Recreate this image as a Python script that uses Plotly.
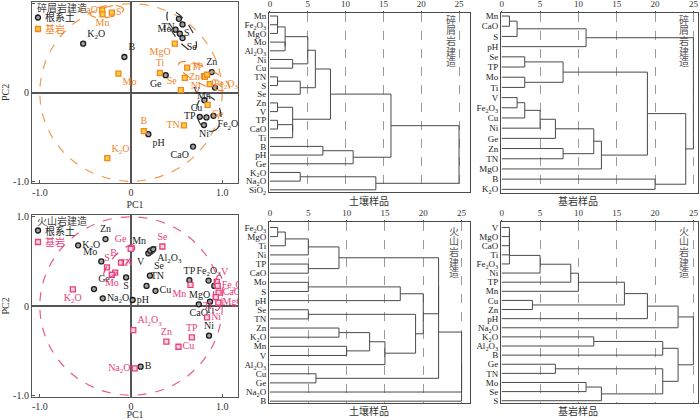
import numpy as np
import plotly.graph_objects as go

# ---------------- data ----------------
# PCA loadings — 碎屑岩建造, 根系土
cl_soil_names = ["K2O", "B", "TN", "", "Mo", "S", "Se", "Ge", "Zn", "Mn", "V", "TP", "Cu", "Fe2O3", "Ni", "pH", "CaO"]
cl_soil_pc1 = [-0.525, -0.073, 0.525, 0.565, 0.488, 0.535, 0.565, 0.38, 0.885, 0.92, 0.805, 0.754, 0.827, 0.904, 0.80, 0.19, 0.68]
cl_soil_pc2 = [0.55, 0.40, 0.83, 0.767, 0.708, 0.663, 0.613, 0.195, 0.23, 0.056, -0.086, -0.274, -0.281, -0.263, -0.367, -0.47, -0.61]
# PCA loadings — 碎屑岩建造, 基岩
cl_rock_names = ["CaO", "Mn", "S", "MgO", "Ti", "Mo", "TP", "Zn", "V", "Ni", "Cu", "Fe2O3", "Se", "Ge", "TN", "B", "K2O"]
cl_rock_pc1 = [-0.317, -0.313, -0.21, 0.48, 0.317, -0.138, 0.616, 0.59, 0.80, 0.81, 0.834, 0.863, 0.546, 0.84, 0.58, 0.14, -0.26]
cl_rock_pc2 = [0.925, 0.88, 0.90, 0.55, 0.22, 0.213, 0.28, 0.165, 0.185, 0.175, 0.20, 0.094, 0.026, -0.14, -0.37, -0.435, -0.74]
# PCA loadings — 火山岩建造, 根系土
vo_soil_names = ["K2O", "Zn", "Mo", "Ge", "Na2O", "S", "pH", "V", "Mn", "Al2O3", "Se", "TN", "Cu", "TP", "Fe2O3", "MgO", "CaO", "Ti", "Ni", "B"]
vo_soil_pc1 = [-0.58, -0.28, -0.326, -0.406, -0.31, -0.054, 0.018, 0.19, 0.21, 0.243, 0.207, 0.17, 0.268, 0.64, 0.85, 0.913, 0.743, 0.866, 0.855, 0.105]
vo_soil_pc2 = [0.68, 0.75, 0.50, 0.19, 0.086, 0.32, 0.067, 0.59, 0.62, 0.637, 0.34, 0.225, 0.17, 0.29, 0.285, 0.225, 0.019, 0.049, -0.333, -0.68]
# PCA loadings — 火山岩建造, 基岩
vo_rock_names = ["Se", "Ge", "B", "S", "TN", "Mo", "K2O", "Mn", "V", "Fe2O3", "CaO", "Ti", "MgO", "Ni", "Al2O3", "TP", "Zn", "Cu", "Na2O"]
vo_rock_pc1 = [0.344, -0.004, -0.11, -0.264, -0.174, -0.21, -0.638, 0.652, 0.94, 0.95, 0.96, 0.93, 0.957, 0.833, 0.025, 0.667, 0.388, 0.52, 0.04]
vo_rock_pc2 = [0.667, 0.64, 0.487, 0.434, 0.375, 0.35, 0.187, 0.236, 0.27, 0.225, 0.15, 0.10, 0.037, -0.127, -0.27, -0.352, -0.40, -0.457, -0.70]

# Cluster trees (leaf order, then merges: child, child, rescaled distance)
d1_leaves = ["Mn", "Fe2O3", "MgO", "Mo", "Al2O3", "Ni", "Cu", "TN", "S", "Se", "Zn", "V", "TP", "CaO", "Ti", "B", "pH", "Ge", "K2O", "Na2O", "SiO2"]
d1_merges = [("Mn", "Fe2O3", 1), (0, "MgO", 1), ("Mo", "Al2O3", 2), (1, 2, 2), ("Ni", "Cu", 3), (3, 4, 5),
             ("TN", "S", 1), (6, "Se", 4), (5, 7, 6), ("Zn", "V", 1), ("TP", "CaO", 1), (10, "Ti", 3), (9, 11, 3),
             (8, 12, 8), ("B", "pH", 7), (14, "Ge", 11), (13, 15, 16), ("K2O", "Na2O", 4), (17, "SiO2", 14), (16, 18, 25)]
d2_leaves = ["Mn", "CaO", "S", "pH", "Se", "TP", "Mo", "Ti", "V", "Fe2O3", "Cu", "Ni", "Ge", "Zn", "TN", "MgO", "B", "K2O"]
d2_merges = [("Mn", "CaO", 1), (0, "S", 2), (1, "pH", 11), ("Se", "TP", 3), ("Mo", "Ti", 3), (3, 4, 8),
             ("V", "Fe2O3", 2), (6, "Cu", 3), (7, "Ni", 5), (8, "Ge", 7), ("Zn", "TN", 8), (9, 10, 12), (11, "MgO", 13),
             (5, 12, 19), ("B", "K2O", 20), (13, 14, 24), (2, 15, 25)]
d3_leaves = ["Fe2O3", "MgO", "Ti", "Ni", "TP", "CaO", "Mo", "S", "pH", "Se", "TN", "Zn", "K2O", "Mn", "V", "Al2O3", "Cu", "Ge", "Na2O", "B"]
d3_merges = [("Fe2O3", "MgO", 1), (0, "Ti", 2), (1, "Ni", 5), ("TP", "CaO", 5), (2, 3, 9), ("Mo", "S", 5), (5, "pH", 17),
             ("Se", "TN", 5), ("Zn", "K2O", 9), ("Mn", "V", 10), (8, 9, 13), (10, "Al2O3", 15), (7, 11, 19), (6, 12, 20),
             ("Cu", "Ge", 6), (4, 13, 22), (15, 14, 22), (16, "Na2O", 25), (17, "B", 25)]
d4_leaves = ["V", "MgO", "CaO", "Ti", "Fe2O3", "Ni", "TP", "Mn", "Cu", "Zn", "pH", "Na2O", "K2O", "Al2O3", "B", "Ge", "TN", "Mo", "Se", "S"]
d4_merges = [("V", "MgO", 1), (0, "CaO", 1), (1, "Ti", 1), (2, "Fe2O3", 1), (3, "Ni", 5), (4, "TP", 9), (5, "Mn", 10),
             ("Cu", "Zn", 4), (6, 7, 16), (8, "pH", 19), (9, "Na2O", 23), ("K2O", "Al2O3", 12), (11, "B", 21),
             ("Ge", "TN", 7), ("Mo", "Se", 11), (14, "S", 13), (13, 15, 21), (12, 16, 23), (10, 17, 25)]
dist_ticks = [0, 5, 10, 15, 20, 25]

# ---------------- styles ----------------
FONT = "Liberation Serif, Times New Roman, Noto Sans CJK SC, serif"
ORANGE = "#f0862a"
PINK = "#e8407c"
LINE = "#4a4a4a"
SUBS = {"Fe2O3": "Fe<sub>2</sub>O<sub>3</sub>", "Al2O3": "Al<sub>2</sub>O<sub>3</sub>", "K2O": "K<sub>2</sub>O",
        "Na2O": "Na<sub>2</sub>O", "SiO2": "SiO<sub>2</sub>"}
W, H = 700, 420


def fmt(n):
    return SUBS.get(n, n)


cl_soil_pos = ["top right", "top right", "bottom left", "middle left", "middle left", "middle right", "bottom right",
               "bottom left", "top center", "bottom left", "top left", "middle left", "top left", "bottom right",
               "bottom center", "bottom right", "bottom left"]
cl_rock_pos = ["middle left", "bottom center", "middle right", "bottom left", "top center", "bottom right", "middle right",
               "middle right", "top left", "bottom left", "bottom right", "middle right", "top left", "bottom right",
               "middle left", "top center", "top right"]
vo_soil_pos = ["middle right", "top center", "top left", "top right", "middle right", "bottom center", "middle right",
               "bottom left", "top left", "bottom right", "top right", "top right", "middle right", "top center",
               "top center", "bottom left", "bottom center", "bottom center", "top center", "middle right"]
vo_rock_pos = ["top center", "top left", "top left", "top center", "top right", "bottom center", "bottom center",
               "bottom left", "top right", "middle right", "middle right", "bottom left", "middle right", "middle right",
               "top right", "top center", "top center", "middle right", "middle left"]

# group outlines (cx, cy, semi-axis a, semi-axis b, angle deg, colour)
cl_ellipses = [(-0.266, 0.912, 0.185, 0.065, 8, ORANGE), (0.555, 0.70, 0.26, 0.095, -57, "#333333"),
               (0.80, 0.185, 0.31, 0.095, -27, ORANGE), (0.853, -0.24, 0.20, 0.13, -78, "#333333")]
vo_ellipses = [(-0.13, 0.50, 0.24, 0.075, 48, PINK), (0.217, 0.614, 0.075, 0.032, 35, "#333333"),
               (0.955, 0.15, 0.20, 0.05, 86, PINK)]

fig = go.Figure()


def ellipse_path(cx, cy, a, b, ang):
    t = np.linspace(0, 2 * np.pi, 60)
    th = np.deg2rad(ang)
    xs = cx + a * np.cos(t) * np.cos(th) - b * np.sin(t) * np.sin(th)
    ys = cy + a * np.cos(t) * np.sin(th) + b * np.sin(t) * np.cos(th)
    return "M " + " L ".join(f"{x:.4f},{y:.4f}" for x, y in zip(xs, ys)) + " Z"


SOIL_MARK = dict(color="#a0a0a0", line=dict(color="#1a1a1a", width=1.3))


def pca_panel(ax, soil, rock, rock_color, rock_fill, ellipses, circle_color):
    xr, yr = f"x{ax}", f"y{ax}"
    names, px, py, pos = soil
    fig.add_trace(go.Scatter(
        x=px, y=py, mode="markers+text", text=[fmt(n) for n in names], textposition=pos,
        textfont=dict(family=FONT, size=10, color="#222"),
        marker=dict(symbol="circle", size=5, **SOIL_MARK),
        showlegend=False, hoverinfo="skip", xaxis=xr, yaxis=yr))
    names, px, py, pos = rock
    fig.add_trace(go.Scatter(
        x=px, y=py, mode="markers+text", text=[fmt(n) for n in names], textposition=pos,
        textfont=dict(family=FONT, size=10, color=rock_color),
        marker=dict(symbol="square", size=5, color=rock_fill, line=dict(color=rock_color, width=1.3)),
        showlegend=False, hoverinfo="skip", xaxis=xr, yaxis=yr))
    fig.add_shape(type="circle", xref=xr, yref=yr, x0=-1, y0=-1, x1=1, y1=1,
                  line=dict(color=circle_color, width=1.2, dash="dash"), layer="below")
    for cx, cy, a, b, ang, col in ellipses:
        fig.add_shape(type="path", xref=xr, yref=yr, path=ellipse_path(cx, cy, a, b, ang),
                      line=dict(color=col, width=1.2, dash="dash"))


def legend_block(title, top_px, rock_color, rock_fill):
    # legend drawn as text + pixel-sized key shapes
    fig.add_annotation(text=title, x=35 / W, y=1 - top_px / H, xref="paper", yref="paper", showarrow=False,
                       xanchor="left", yanchor="middle", font=dict(family=FONT, size=10, color="#444"))
    for i, (lab, col) in enumerate([("根系土", "#222"), ("基岩", rock_color)]):
        yy = 1 - (top_px + 9.5 + 11.5 * i) / H
        fig.add_annotation(text=lab, x=43 / W, y=yy, xref="paper", yref="paper", showarrow=False,
                           xanchor="left", yanchor="middle", font=dict(family=FONT, size=10, color=col))
        common = dict(xref="paper", yref="paper", xsizemode="pixel", ysizemode="pixel",
                      xanchor=38 / W, yanchor=yy, x0=-2.5, x1=2.5, y0=-2.5, y1=2.5)
        if i == 0:
            fig.add_shape(type="circle", fillcolor=SOIL_MARK["color"], line=SOIL_MARK["line"], **common)
        else:
            fig.add_shape(type="rect", fillcolor=rock_fill, line=dict(color=rock_color, width=1.3), **common)


def dendro_panel(ax, leaves, merges, x_range, y_pad):
    pos = {n: (0.0, float(i)) for i, n in enumerate(leaves)}
    clusters = []
    xs, ys = [], []

    def get(c):
        return clusters[c] if isinstance(c, int) else pos[c]

    for a, b, h in merges:
        ha, ya = get(a)
        hb, yb = get(b)
        xs += [ha, h, h, hb, None]
        ys += [ya, ya, yb, yb, None]
        clusters.append((float(h), (ya + yb) / 2))
    fig.add_trace(go.Scatter(x=xs, y=ys, mode="lines", line=dict(color=LINE, width=1),
                             showlegend=False, hoverinfo="skip", xaxis=f"x{ax}", yaxis=f"y{ax}"))
    n = len(leaves)
    fig.layout[f"xaxis{ax}"].update(range=x_range, side="top", tickvals=dist_ticks, ticks="outside", ticklen=1,
                                    tickcolor=LINE, showgrid=True, gridcolor="#9a9a9a", griddash="dash",
                                    gridwidth=0.8, zeroline=False, showline=True, mirror=True, linecolor=LINE,
                                    automargin=False, tickfont=dict(family=FONT, size=9, color="#333"))
    fig.layout[f"yaxis{ax}"].update(range=[n - 1 + y_pad[1], -y_pad[0]], tickvals=list(range(n)),
                                    ticktext=[fmt(l) for l in leaves], ticks="", showgrid=False, zeroline=False,
                                    showline=True, mirror=True, linecolor=LINE, automargin=False,
                                    tickfont=dict(family=FONT, size=9, color="#222"))


# domains (paper)
XL, XM, XR = [32 / W, 238 / W], [269 / W, 470 / W], [501 / W, 698 / W]
fig.update_layout(
    xaxis=dict(domain=XL), yaxis=dict(domain=[1 - 183 / H, 1 - 2 / H]),
    xaxis2=dict(domain=XM, anchor="y2"), yaxis2=dict(domain=[1 - 192 / H, 1 - 13 / H], anchor="x2"),
    xaxis3=dict(domain=XR, anchor="y3"), yaxis3=dict(domain=[1 - 193 / H, 1 - 13 / H], anchor="x3"),
    xaxis4=dict(domain=XL, anchor="y4"), yaxis4=dict(domain=[1 - 397 / H, 1 - 215 / H], anchor="x4"),
    xaxis5=dict(domain=XM, anchor="y5"), yaxis5=dict(domain=[1 - 403 / H, 1 - 222 / H], anchor="x5"),
    xaxis6=dict(domain=XR, anchor="y6"), yaxis6=dict(domain=[1 - 403 / H, 1 - 222 / H], anchor="x6"),
)

pca_panel(1, (cl_soil_names, cl_soil_pc1, cl_soil_pc2, cl_soil_pos),
          (cl_rock_names, cl_rock_pc1, cl_rock_pc2, cl_rock_pos), ORANGE, "#ffcc33", cl_ellipses, "#f29a50")
pca_panel(4, (vo_soil_names, vo_soil_pc1, vo_soil_pc2, vo_soil_pos),
          (vo_rock_names, vo_rock_pc1, vo_rock_pc2, vo_rock_pos), PINK, "#fbd3e2", vo_ellipses, "#ea5a93")
legend_block("碎屑岩建造", 8, ORANGE, "#ffcc33")
legend_block("火山岩建造", 221, PINK, "#fbd3e2")

for ax in (1, 4):
    fig.layout[f"xaxis{ax}"].update(range=[-1.086, 1.173], tickvals=[-1, 0, 1], ticktext=["-1.0", "0", "1.0"],
                                    zeroline=True, zerolinecolor="#555", zerolinewidth=1.5, showgrid=False,
                                    showline=True, mirror=True, linecolor="#555", linewidth=1.2,
                                    ticks="inside", ticklen=3, tickcolor="#555", automargin=False,
                                    tickfont=dict(family=FONT, size=10, color="#333"),
                                    title=dict(text="PC1", font=dict(family=FONT, size=10, color="#333"), standoff=3))
    fig.layout[f"yaxis{ax}"].update(range=[-1.02, 1.02], tickvals=[-1, 0, 1], ticktext=["-1.0", "0", "1.0"],
                                    zeroline=True, zerolinecolor="#555", zerolinewidth=1.5, showgrid=False,
                                    showline=True, mirror=True, linecolor="#555", linewidth=1.2,
                                    ticks="inside", ticklen=3, tickcolor="#555", automargin=False,
                                    tickfont=dict(family=FONT, size=10, color="#333"),
                                    title=dict(text="PC2", font=dict(family=FONT, size=10, color="#333"), standoff=2))

dendro_panel(2, d1_leaves, d1_merges, [-0.13, 26.45], (0.35, 0.25))
dendro_panel(3, d2_leaves, d2_merges, [-0.1, 25.6], (0.3, 0.36))
dendro_panel(5, d3_leaves, d3_merges, [-0.13, 26.1], (0.6, 0.2))
dendro_panel(6, d4_leaves, d4_merges, [-0.1, 25.6], (0.6, 0.25))

annots = [
    ("土壤样品", (269 + 470) / 2 / W, 1 - 201 / H),
    ("基岩样品", (501 + 698) / 2 / W, 1 - 201 / H),
    ("土壤样品", (269 + 470) / 2 / W, 1 - 411 / H),
    ("基岩样品", (501 + 698) / 2 / W, 1 - 411 / H),
]
for t, x, y in annots:
    fig.add_annotation(text=t, x=x, y=y, xref="paper", yref="paper", showarrow=False,
                       font=dict(family=FONT, size=10, color="#333"), yanchor="middle")

# vertical captions, one character per line
vert = [("碎屑岩建造", 451, 20), ("碎屑岩建造", 684, 20), ("火山岩建造", 454, 231), ("火山岩建造", 684, 231)]
for t, xp, yp in vert:
    for k, ch in enumerate(t):
        fig.add_annotation(text=ch, x=xp / W, y=1 - (yp + 10.5 * k) / H, xref="paper", yref="paper",
                           showarrow=False, font=dict(family=FONT, size=10, color="#555"),
                           yanchor="middle", xanchor="center")

fig.update_layout(width=W, height=H, margin=dict(l=0, r=0, t=0, b=0), showlegend=False,
                  paper_bgcolor="white", plot_bgcolor="white", font=dict(family=FONT))
fig.write_html("out.html", config={"displayModeBar": False},
               post_script="document.body.style.margin='0';document.body.style.padding='0';")
